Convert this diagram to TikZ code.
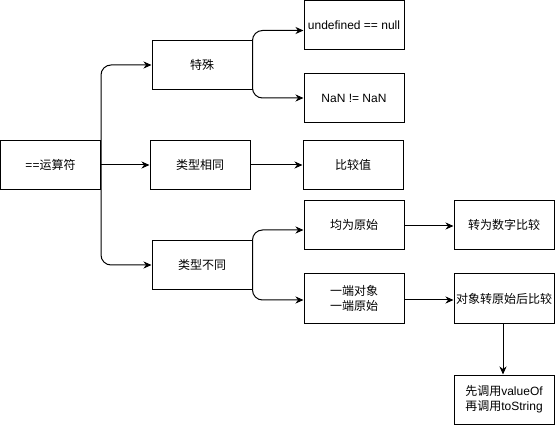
\documentclass[tikz,border=0pt]{standalone}
\usepackage{fontspec}
\setmainfont{Liberation Sans}
\newfontfamily\cjk{Noto Sans CJK SC}
\usetikzlibrary{arrows.meta}
\begin{document}
\begin{tikzpicture}[x=1pt,y=-1pt,
  box/.style={draw=black, line width=1pt, minimum width=100pt, minimum height=49pt, inner sep=0pt, align=center,
    font=\fontsize{12pt}{15pt}\selectfont},
  conn/.style={draw=black, line width=1pt, rounded corners=10pt, -{Stealth[length=8pt,width=7pt,inset=2.5pt]}}]
\useasboundingbox (0,0) rectangle (555,425);
\node[box] (A) at (50.5,165) {=={\cjk 运算符}};
\node[box] (B) at (202,65) {\cjk 特殊};
\node[box] (C) at (200,165) {\cjk 类型相同};
\node[box] (D) at (202,265) {\cjk 类型不同};
\node[box] (E) at (354,25.5) {undefined == null};
\node[box] (F) at (354,98) {NaN != NaN};
\node[box] (G) at (353,165) {\cjk 比较值};
\node[box] (H) at (354,225) {\cjk 均为原始};
\node[box] (I) at (354,298.5) {\cjk 一端对象\\\cjk 一端原始};
\node[box] (J) at (504,225) {\cjk 转为数字比较};
\node[box] (K) at (504,298.5) {\cjk 对象转原始后比较};
\node[box] (L) at (504,399.5) {{\cjk 先调用}valueOf\\{\cjk 再调用}toString};
\draw[conn] (A.east) |- (B.west);
\draw[conn] (A.east) -- (C.west);
\draw[conn] (A.east) |- (D.west);
\draw[conn] (B.east) |- ([yshift=-5pt]E.west);
\draw[conn] (B.east) |- (F.west);
\draw[conn] (C.east) -- (G.west);
\draw[conn] (D.east) |- ([yshift=-5pt]H.west);
\draw[conn] (D.east) |- ([yshift=-1.5pt]I.west);
\draw[conn] ([yshift=-1pt]H.east) -- ([yshift=-1pt]J.west);
\draw[conn] ([yshift=-1.5pt]I.east) -- ([yshift=-1.5pt]K.west);
\draw[conn] ([xshift=-1pt]K.south) -- ([xshift=-1pt]L.north);
\end{tikzpicture}
\end{document}
